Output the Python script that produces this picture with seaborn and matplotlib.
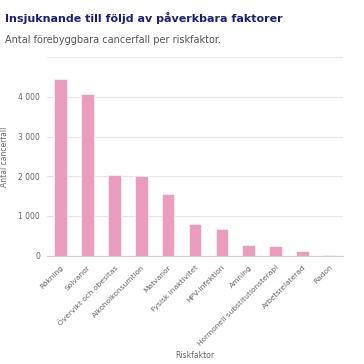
import matplotlib
matplotlib.use("Agg")
import matplotlib.pyplot as plt
import seaborn as sns
import pandas as pd

categories = ["Rökning", "Solvanor", "Övervikt och obesitas", "Alkoholkonsumtion",
              "Matvanor", "Fysisk inaktivitet", "HPV-infektion", "Amning",
              "Hormonell substitutionsterapi", "Arbetsrelaterad", "Radon"]
values = [4460, 4070, 2025, 2000, 1560, 790, 680, 260, 250, 125, 25]
yticks = [0, 1000, 2000, 3000, 4000, 5000]
ytick_labels = ["0", "1 000", "2 000", "3 000", "4 000", ""]

df = pd.DataFrame({"Riskfaktor": categories, "Antal": values})

sns.set_style("white")
plt.rcParams['font.family'] = ['DejaVu Sans']

W = 364
fig = plt.figure(figsize=(3.64, 3.64), dpi=100)
ax = fig.add_axes([47 / W, 1 - 255.7 / W, (343 - 47) / W, (255.7 - 57.2) / W])

sns.barplot(data=df, x="Riskfaktor", y="Antal", color="#EC9DBE", width=0.47,
            edgecolor="white", linewidth=0.4, saturation=1, ax=ax, zorder=3)

ax.set_ylim(0, 5000)
ax.set_xlim(-0.5, len(categories) - 0.5)
ax.set_yticks(yticks)
ax.set_yticklabels(ytick_labels)
ax.yaxis.grid(True, color="#e6e6e6", linewidth=0.8, zorder=0)
ax.set_axisbelow(True)
for s in ["left", "right", "top"]:
    ax.spines[s].set_visible(False)
ax.spines["bottom"].set_color("#d0d0d0")
ax.spines["bottom"].set_linewidth(0.8)
ax.tick_params(axis="y", length=0, pad=5, labelsize=5.5, labelcolor="#666666")
ax.tick_params(axis="x", length=0, pad=6, labelsize=5.4, labelcolor="#666666")
for lbl in ax.get_xticklabels():
    lbl.set_rotation(45)
    lbl.set_ha("right")
    lbl.set_va("top")
    lbl.set_rotation_mode("anchor")

ax.set_ylabel("Antal cancerfall", fontsize=5.5, color="#666666")
ax.yaxis.set_label_coords((9 - 47) / 296, 0.5)
ax.set_xlabel("Riskfaktor", fontsize=5.5, color="#666666")
ax.xaxis.set_label_coords(0.5, -(351 - 255.7) / (255.7 - 57.2))

fig.text(5 / W, 1 - 18 / W, "Insjuknande till följd av påverkbara faktorer",
         fontsize=8.0, fontweight="bold", color="#1b1e7c", va="center", ha="left")
fig.text(5 / W, 1 - 40 / W, "Antal förebyggbara cancerfall per riskfaktor.",
         fontsize=7.0, color="#555555", va="center", ha="left")

fig.savefig("out.png", dpi=100, facecolor="white")
